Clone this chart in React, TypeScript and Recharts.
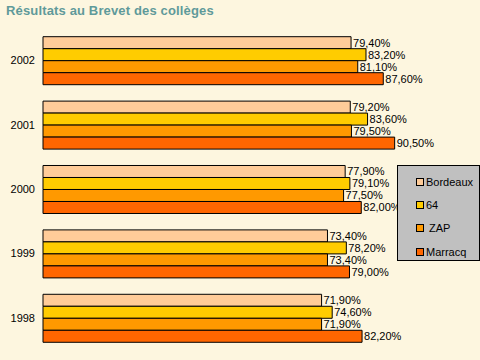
import { BarChart, Bar, XAxis, YAxis, LabelList } from "recharts";

const years = ["2002", "2001", "2000", "1999", "1998"];
const bordeaux = [79.4, 79.2, 77.9, 73.4, 71.9];
const dep64 = [83.2, 83.6, 79.1, 78.2, 74.6];
const zap = [81.1, 79.5, 77.5, 73.4, 71.9];
const marracq = [87.6, 90.5, 82.0, 79.0, 82.2];

const series = [
  { key: "bordeaux", name: "Bordeaux", values: bordeaux, color: "#FFCC99" },
  { key: "d64", name: "64", values: dep64, color: "#FFCC00" },
  { key: "zap", name: " ZAP", values: zap, color: "#FF9900" },
  { key: "marracq", name: "Marracq", values: marracq, color: "#FF6600" },
];

const data = years.map((year, i) => {
  const row: Record<string, string | number> = { year };
  series.forEach((s) => (row[s.key] = s.values[i]));
  return row;
});

const font = "'Liberation Sans', Arial, sans-serif";

const fmt = (v: number) => v.toFixed(2).replace(".", ",") + "%";

// legend drawn by hand, Excel-style grey box on the right
const LegendBox = () => (
  <div
    style={{
      position: "absolute",
      left: 397,
      top: 165,
      width: 83,
      height: 96,
      boxSizing: "border-box",
      background: "#C0C0C0",
      border: "1px solid #000",
      paddingTop: 4,
      fontFamily: font,
      fontSize: 11,
    }}
  >
    {series.map((s) => (
      <div key={s.key} style={{ display: "flex", alignItems: "center", height: 23.3, paddingLeft: 18 }}>
        <span
          style={{
            width: 6,
            height: 6,
            background: s.color,
            border: "1px solid #000",
            marginRight: 2,
            display: "inline-block",
          }}
        />
        <span style={{ whiteSpace: "pre" }}>{s.name}</span>
      </div>
    ))}
  </div>
);

export default function App() {
  return (
    <div
      style={{
        position: "fixed",
        left: 0,
        top: 0,
        width: 480,
        height: 360,
        background: "#FDF6DF",
        fontFamily: font,
      }}
    >
      <div
        style={{
          position: "absolute",
          left: 6,
          top: 3,
          fontSize: 13,
          fontWeight: "bold",
          color: "#5F9A9A",
          letterSpacing: 0.15,
        }}
      >
        Résultats au Brevet des collèges
      </div>
      <BarChart
        width={480}
        height={360}
        data={data}
        layout="vertical"
        margin={{ top: 28, right: 48, bottom: 10, left: 0 }}
        barCategoryGap="13.5%"
        barGap={0}
      >
        <XAxis type="number" domain={[1, 100]} hide />
        <YAxis
          type="category"
          dataKey="year"
          width={43}
          axisLine={false}
          tickLine={false}
          tickSize={6}
          tickMargin={2}
          tick={{ fill: "#000", fontSize: 11, fontFamily: font }}
        />
        {series.map((s) => (
          <Bar
            key={s.key}
            dataKey={s.key}
            name={s.name}
            fill={s.color}
            stroke="#000"
            strokeWidth={1}
            isAnimationActive={false}
          >
            <LabelList
              dataKey={s.key}
              position="right"
              offset={2}
              fill="#000"
              fontSize={11}
              fontFamily={font}
              formatter={(v: number) => fmt(v)}
            />
          </Bar>
        ))}
      </BarChart>
      <LegendBox />
    </div>
  );
}
